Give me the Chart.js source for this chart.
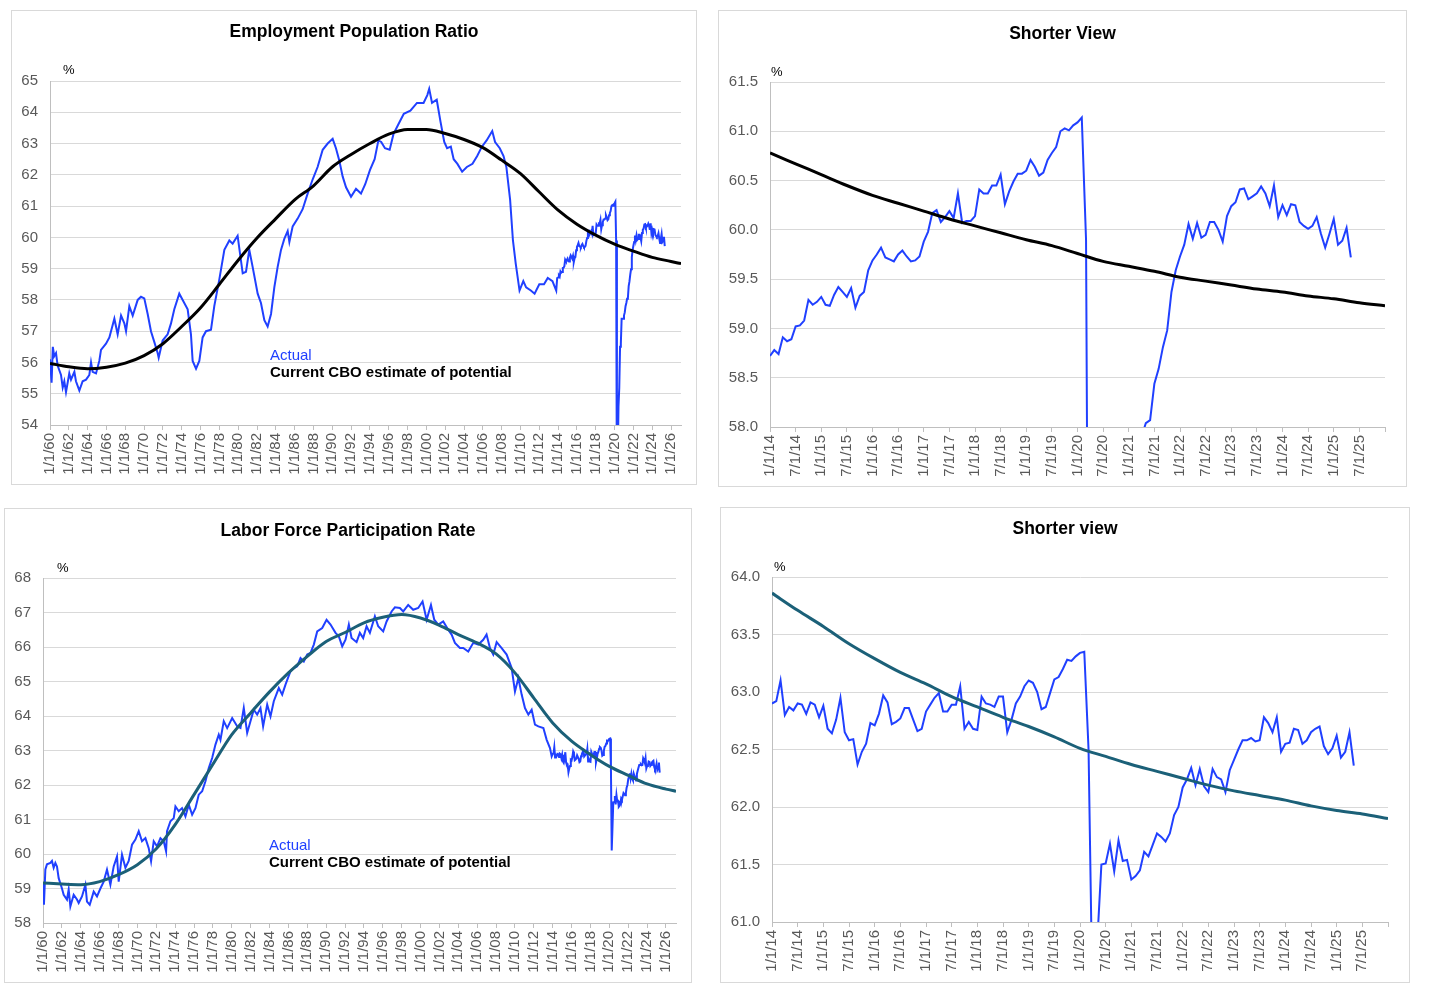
<!DOCTYPE html>
<html lang="en">
<head>
  <meta charset="UTF-8">
  <title>Employment Population Ratio and Labor Force Participation</title>
  <style>
    body {
      margin: 0;
      background: #ffffff;
      font-family: 'Liberation Sans', Arial, sans-serif;
    }

    .panel {
      position: absolute;
      box-sizing: border-box;
      border: 1px solid #d9d9d9;
      background: #ffffff;
    }

    .panel canvas {
      position: absolute;
      left: 0;
      top: 0;
    }

    .title {
      position: absolute;
      left: 0;
      right: 0;
      text-align: center;
      font-weight: bold;
      font-size: 17.5px;
      line-height: 20px;
      color: #000;
      z-index: 2;
    }

    .pct {
      position: absolute;
      font-size: 13px;
      line-height: 14px;
      color: #000;
      z-index: 2;
    }

    .note {
      position: absolute;
      font-size: 15px;
      line-height: 17px;
      white-space: nowrap;
      z-index: 2;
    }

    .note .actual { color: #2040ff; }
    .note .cbo { font-weight: bold; color: #000; }
  </style>
</head>
<body>
  <div class="panel" style="left:11px; top:10px; width:686px; height:475px;">
    <div class="title" style="top:10px;">Employment Population Ratio</div>
    <div class="pct" style="left:51px; top:52px;">%</div>
    <div class="note" style="left:258px; top:335px;">
      <div class="actual">Actual</div>
      <div class="cbo">Current CBO estimate of potential</div>
    </div>
    <canvas id="epop-long" width="684" height="473"></canvas>
  </div>

  <div class="panel" style="left:718px; top:10px; width:689px; height:477px;">
    <div class="title" style="top:12px;">Shorter View</div>
    <div class="pct" style="left:52px; top:54px;">%</div>
    <canvas id="epop-short" width="687" height="475"></canvas>
  </div>

  <div class="panel" style="left:4px; top:508px; width:688px; height:475px;">
    <div class="title" style="top:11px;">Labor Force Participation Rate</div>
    <div class="pct" style="left:52px; top:52px;">%</div>
    <div class="note" style="left:264px; top:327px;">
      <div class="actual">Actual</div>
      <div class="cbo">Current CBO estimate of potential</div>
    </div>
    <canvas id="lfpr-long" width="686" height="473"></canvas>
  </div>

  <div class="panel" style="left:720px; top:507px; width:690px; height:476px;">
    <div class="title" style="top:10px;">Shorter view</div>
    <div class="pct" style="left:53px; top:52px;">%</div>
    <canvas id="lfpr-short" width="688" height="474"></canvas>
  </div>

  <script src="https://cdn.jsdelivr.net/npm/chart.js"></script>
  <script>
    // tick labels
    const longTickLabels = ['1/1/60', '1/1/62', '1/1/64', '1/1/66', '1/1/68', '1/1/70', '1/1/72', '1/1/74', '1/1/76',
      '1/1/78', '1/1/80', '1/1/82', '1/1/84', '1/1/86', '1/1/88', '1/1/90', '1/1/92', '1/1/94', '1/1/96', '1/1/98',
      '1/1/00', '1/1/02', '1/1/04', '1/1/06', '1/1/08', '1/1/10', '1/1/12', '1/1/14', '1/1/16', '1/1/18', '1/1/20',
      '1/1/22', '1/1/24', '1/1/26'];
    const shortTickLabels = ['1/1/14', '7/1/14', '1/1/15', '7/1/15', '1/1/16', '7/1/16', '1/1/17', '7/1/17', '1/1/18',
      '7/1/18', '1/1/19', '7/1/19', '1/1/20', '7/1/20', '1/1/21', '7/1/21', '1/1/22', '7/1/22', '1/1/23', '7/1/23',
      '1/1/24', '7/1/24', '1/1/25', '7/1/25'];

    // employment population ratio, 1960-2013
    const epopHistYears = [1960.0, 1960.17, 1960.3, 1960.45, 1960.64, 1960.81, 1961.17, 1961.35, 1961.52, 1961.7,
      1962.05, 1962.23, 1962.59, 1962.76, 1963.12, 1963.47, 1963.83, 1964.18, 1964.36, 1964.53, 1964.89, 1965.24,
      1965.42, 1965.95, 1966.31, 1966.84, 1967.19, 1967.55, 1967.9, 1968.08, 1968.43, 1968.79, 1969.32, 1969.67,
      1970.02, 1970.38, 1970.73, 1971.09, 1971.44, 1971.55, 1971.97, 1972.5, 1972.86, 1973.21, 1973.74, 1974.1,
      1974.63, 1974.98, 1975.16, 1975.52, 1975.87, 1976.22, 1976.58, 1977.11, 1977.46, 1977.99, 1978.53, 1979.06,
      1979.41, 1979.94, 1980.3, 1980.48, 1980.83, 1981.18, 1981.54, 1982.07, 1982.42, 1982.78, 1983.13, 1983.49,
      1983.84, 1984.19, 1984.55, 1984.9, 1985.26, 1985.44, 1985.79, 1986.32, 1986.85, 1987.38, 1987.91, 1988.44,
      1988.98, 1989.51, 1990.04, 1990.39, 1990.75, 1991.1, 1991.46, 1991.99, 1992.52, 1993.05, 1993.5, 1994.0,
      1994.5, 1994.9, 1995.2, 1995.6, 1996.1, 1996.5, 1997.0, 1997.6, 1998.3, 1999.0, 1999.7, 2000.1, 2000.3,
      2000.6, 2001.1, 2001.5, 2001.9, 2002.2, 2002.6, 2002.9, 2003.3, 2003.8, 2004.3, 2004.9, 2005.4, 2005.9,
      2006.4, 2007.0, 2007.3, 2007.8, 2008.2, 2008.5, 2008.9, 2009.2, 2009.5, 2009.9, 2010.3, 2010.6, 2011.1,
      2011.5, 2012.0, 2012.5, 2012.9, 2013.4, 2013.8, 2013.9];
    const epopHistValues = [56.1, 55.35, 56.5, 56.2, 56.3, 55.9, 55.6, 55.2, 55.4, 55.05,
      55.65, 55.45, 55.7, 55.4, 55.1, 55.4, 55.45, 55.6, 56.0, 55.7, 55.65, 56.05,
      56.4, 56.6, 56.8, 57.4, 56.9, 57.5, 57.25, 57.0, 57.8, 57.5, 58.0, 58.1,
      58.05, 57.55, 57.0, 56.65, 56.3, 56.15, 56.7, 56.9, 57.25, 57.7, 58.2, 58.0,
      57.7, 56.9, 56.05, 55.8, 56.05, 56.8, 57.0, 57.05, 57.8, 58.65, 59.6, 59.9,
      59.8, 60.05, 59.25, 58.85, 58.9, 59.6, 59.05, 58.2, 57.9, 57.35, 57.15, 57.55,
      58.4, 59.05, 59.6, 59.95, 60.2, 59.85, 60.35, 60.6, 60.9, 61.4, 61.85, 62.25,
      62.8, 63.0, 63.15, 62.85, 62.45, 61.95, 61.6, 61.3, 61.55, 61.4, 61.7, 62.15,
      62.5, 63.1, 63.05, 62.85, 62.8, 63.3, 63.6, 63.95, 64.05, 64.3, 64.3, 64.55, 64.75,
      64.3, 64.4, 63.7, 63.05, 62.85, 62.9, 62.5, 62.35, 62.1, 62.25, 62.35, 62.6, 62.9,
      63.1, 63.4, 63.05, 62.85, 62.6, 62.25, 61.2, 59.9, 59.15, 58.3, 58.6, 58.4, 58.3,
      58.2, 58.5, 58.5, 58.7, 58.6, 58.3, 58.7];

    // employment population ratio, monthly from Jan 2014
    const epopMonthly = [
      58.72, 58.78, 58.74, 58.91, 58.87, 58.89, 59.02, 59.03, 59.08, 59.29, 59.24, 59.27,
      59.32, 59.24, 59.23, 59.34, 59.42, 59.37, 59.32, 59.41, 59.21, 59.33, 59.37, 59.59,
      59.69, 59.75, 59.82, 59.72, 59.70, 59.68, 59.75, 59.79, 59.73, 59.68, 59.69, 59.73,
      59.88, 59.98, 60.17, 60.20, 60.08, 60.13, 60.19, 60.12, 60.37, 60.07, 60.09, 60.09,
      60.14, 60.41, 60.37, 60.37, 60.45, 60.45, 60.56, 60.26, 60.39, 60.49, 60.57, 60.57,
      60.60, 60.71, 60.64, 60.55, 60.58, 60.71, 60.78, 60.84, 61.00, 61.03, 61.01, 61.06,
      61.09, 61.14, 59.90, 51.3, 52.8, 54.6, 55.2, 56.5, 56.6, 57.4, 57.4, 57.4,
      57.5, 57.6, 57.8, 57.9, 58.04, 58.07, 58.44, 58.59, 58.81, 58.98, 59.37, 59.59,
      59.73, 59.85, 60.06, 59.91, 60.07, 59.92, 59.95, 60.08, 60.08, 60.00, 59.88, 60.14,
      60.24, 60.28, 60.41, 60.42, 60.31, 60.34, 60.37, 60.44, 60.37, 60.24, 60.45, 60.13,
      60.25, 60.15, 60.26, 60.25, 60.08, 60.04, 60.01, 60.04, 60.13, 59.96, 59.82, 59.96,
      60.11, 59.85, 59.89, 60.02, 59.72];

    // CBO potential employment population ratio
    const epopCboYears = [1960, 1962, 1964, 1966, 1968, 1970, 1972, 1974, 1976, 1978, 1980, 1982, 1984, 1986,
      1988, 1990, 1992, 1994, 1996, 1998, 2000, 2002, 2004, 2006, 2008, 2010, 2012, 2014, 2016, 2018, 2020,
      2022, 2024, 2026, 2027.06];
    const epopCboValues = [55.97, 55.86, 55.8, 55.85, 55.98, 56.22, 56.6, 57.15, 57.75, 58.5, 59.27, 59.98, 60.6,
      61.2, 61.65, 62.25, 62.65, 63.0, 63.3, 63.45, 63.45, 63.32, 63.13, 62.87, 62.47, 62.04, 61.45, 60.87,
      60.42, 60.07, 59.78, 59.56, 59.36, 59.23, 59.16];
    // half-yearly from 1/1/14 to 1/1/26 (shorter view)
    const epopCboShort = [60.78, 60.67, 60.56, 60.45, 60.35, 60.27, 60.19, 60.11, 60.04, 59.97, 59.90, 59.84,
      59.76, 59.68, 59.63, 59.58, 59.52, 59.48, 59.44, 59.40, 59.37, 59.33, 59.30, 59.26, 59.23];

    // labor force participation rate, 1960-2013
    const lfprHistYears = [1960.0, 1960.1, 1960.25, 1960.42, 1960.78, 1960.95, 1961.13, 1961.31, 1961.48, 1961.66,
      1962.01, 1962.19, 1962.54, 1962.72, 1962.9, 1963.25, 1963.6, 1963.78, 1964.13, 1964.49, 1964.66, 1964.95,
      1965.37, 1965.72, 1966.08, 1966.43, 1966.78, 1967.14, 1967.49, 1967.84, 1968.02, 1968.37, 1968.73, 1969.08,
      1969.43, 1969.79, 1970.14, 1970.49, 1970.85, 1971.2, 1971.45, 1971.73, 1972.08, 1972.44, 1972.79, 1973.04,
      1973.14, 1973.5, 1973.85, 1974.03, 1974.38, 1974.73, 1975.09, 1975.44, 1975.8, 1976.15, 1976.5, 1976.86,
      1977.21, 1977.56, 1977.92, 1978.27, 1978.62, 1978.8, 1979.15, 1979.51, 1980.04, 1980.57, 1980.92, 1981.27,
      1981.63, 1981.98, 1982.33, 1982.69, 1983.04, 1983.32, 1983.75, 1984.1, 1984.45, 1984.98, 1985.34, 1985.69,
      1986.22, 1986.57, 1986.93, 1987.28, 1987.63, 1987.99, 1988.34, 1988.69, 1989.05, 1989.58, 1990.04, 1990.46,
      1990.99, 1991.34, 1991.7, 1992.05, 1992.4, 1992.69, 1993.22, 1993.57, 1993.92, 1994.28, 1994.63, 1995.16,
      1995.51, 1996.04, 1996.4, 1996.93, 1997.28, 1997.81, 1998.16, 1998.69, 1999.22, 1999.75, 2000.21, 2000.64,
      2001.1, 2001.45, 2001.87, 2002.4, 2002.93, 2003.29, 2003.64, 2004.17, 2004.52, 2005.05, 2005.58, 2006.11,
      2006.64, 2006.99, 2007.35, 2007.7, 2008.06, 2008.59, 2009.12, 2009.65, 2010.0, 2010.36, 2010.71, 2011.06,
      2011.42, 2011.77, 2012.12, 2012.48, 2013.01, 2013.36, 2013.71, 2013.89];
    const lfprHistValues = [59.16, 58.53, 59.55, 59.7, 59.74, 59.8, 59.6, 59.74, 59.64, 59.3,
      59.0, 58.82, 58.68, 58.97, 58.48, 58.82, 58.68, 58.58, 58.77, 59.11, 58.62, 58.53,
      58.91, 58.77, 59.0, 59.2, 59.55, 59.11, 59.64, 59.93, 59.2, 59.98, 59.6, 59.8,
      60.27, 60.42, 60.66, 60.37, 60.46, 60.17, 59.79, 60.37, 60.22, 60.46, 60.37, 60.08,
      60.66, 60.95, 61.04, 61.38, 61.24, 61.33, 61.09, 61.43, 61.14, 61.33, 61.72, 61.82,
      62.11, 62.49, 62.78, 63.17, 63.46, 63.31, 63.85, 63.65, 63.94, 63.7, 63.65, 64.23,
      63.51, 63.85, 64.18, 64.04, 64.23, 63.7, 64.33, 63.99, 64.43, 64.81, 64.62, 64.91,
      65.3, 65.39, 65.44, 65.68, 65.58, 65.78, 65.83, 66.07, 66.45, 66.55, 66.79, 66.65,
      66.41, 66.31, 66.02, 66.21, 66.65, 66.26, 66.14, 66.41, 66.26, 66.6, 66.41, 66.89,
      66.6, 66.45, 66.74, 67.03, 67.15, 67.13, 67.03, 67.22, 67.08, 67.13, 67.32, 66.79,
      67.22, 66.79, 66.65, 66.74, 66.5, 66.36, 66.12, 65.97, 65.97, 65.87, 66.12, 66.07,
      66.21, 66.36, 65.97, 65.78, 66.14, 65.97, 65.78, 65.39, 64.71, 65.1, 64.62, 64.23,
      64.04, 64.18, 63.75, 63.7, 63.65, 63.31, 63.07, 62.83];

    // labor force participation rate, monthly from Jan 2014
    const lfprMonthly = [
      62.90, 62.92, 63.10, 62.80, 62.87, 62.84, 62.90, 62.89, 62.81, 62.91, 62.89, 62.78,
      62.88, 62.68, 62.64, 62.76, 62.95, 62.65, 62.58, 62.59, 62.37, 62.48, 62.55, 62.73,
      62.71, 62.81, 62.97, 62.91, 62.72, 62.74, 62.77, 62.86, 62.86, 62.76, 62.66, 62.68,
      62.83, 62.89, 62.95, 62.99, 62.83, 62.83, 62.89, 62.89, 63.05, 62.68, 62.74, 62.68,
      62.67, 62.96, 62.90, 62.89, 62.87, 62.96, 62.96, 62.65, 62.76, 62.90, 62.96, 63.05,
      63.10, 63.08, 63.00, 62.85, 62.87, 62.99, 63.11, 63.13, 63.20, 63.28, 63.27, 63.31,
      63.34, 63.35, 62.5, 60.1, 60.8, 61.5, 61.51, 61.68, 61.44, 61.71, 61.53, 61.54,
      61.37, 61.40, 61.45, 61.61, 61.57, 61.67, 61.77, 61.74, 61.70, 61.77, 61.93, 62.00,
      62.17, 62.24, 62.34, 62.19, 62.33, 62.18, 62.13, 62.33, 62.26, 62.24, 62.13, 62.32,
      62.41, 62.50, 62.58, 62.58, 62.60, 62.57, 62.58, 62.78, 62.73, 62.65, 62.78, 62.48,
      62.55, 62.56, 62.68, 62.67, 62.55, 62.58, 62.65, 62.68, 62.70, 62.53, 62.46, 62.51,
      62.62, 62.43, 62.48, 62.65, 62.36];

    // CBO potential labor force participation rate
    const lfprCboYears = [1960, 1962, 1964, 1966, 1968, 1970, 1972, 1974, 1976, 1978, 1980, 1982, 1984, 1986,
      1988, 1990, 1992, 1994, 1996, 1998, 2000, 2002, 2004, 2006, 2008, 2010, 2012, 2014, 2016, 2018, 2020,
      2022, 2024, 2026, 2027.06];
    const lfprCboValues = [59.16, 59.13, 59.11, 59.2, 59.4, 59.69, 60.15, 60.85, 61.72, 62.6, 63.46, 64.09, 64.7,
      65.25, 65.73, 66.16, 66.42, 66.7, 66.86, 66.94, 66.84, 66.63, 66.36, 66.12, 65.8, 65.25, 64.52, 63.8,
      63.27, 62.88, 62.54, 62.28, 62.03, 61.88, 61.82];
    const lfprCboShort = [63.86, 63.71, 63.57, 63.42, 63.29, 63.17, 63.07, 62.96, 62.87, 62.78, 62.70, 62.61,
      62.51, 62.44, 62.37, 62.31, 62.25, 62.19, 62.14, 62.10, 62.06, 62.01, 61.97, 61.94, 61.90];

    const BLUE = '#2040ff';
    const TEAL = '#1b6078';

    Chart.defaults.font.family = "'Liberation Sans', Arial, sans-serif";

    function labelToYear(label) {
      const parts = label.split('/');
      const yy = Number(parts[2]);
      return (yy < 50 ? 2000 + yy : 1900 + yy) + (parts[0] === '7' ? 0.5 : 0);
    }

    function pairs(xs, ys) {
      return ys.map((y, i) => ({ x: xs[i], y: y }));
    }

    function monthly(values) {
      return values.map((y, i) => ({ x: 2014 + i / 12, y: y }));
    }

    function halfYearly(values) {
      return values.map((y, i) => ({ x: 2014 + i / 2, y: y }));
    }

    function makeChart(id, cfg) {
      const tickMap = {};
      cfg.tickLabels.forEach(l => { tickMap[labelToYear(l)] = l; });
      const tickValues = Object.keys(tickMap).map(Number);
      if (cfg.endTick) tickValues.push(cfg.xMax);

      return new Chart(document.getElementById(id), {
        type: 'line',
        data: { datasets: cfg.datasets },
        options: {
          responsive: false,
          animation: false,
          layout: { padding: cfg.padding },
          plugins: { legend: { display: false }, tooltip: { enabled: false } },
          elements: { point: { radius: 0 } },
          scales: {
            x: {
              type: 'linear',
              min: cfg.xMin,
              max: cfg.xMax,
              afterBuildTicks: s => { s.ticks = tickValues.map(v => ({ value: v })); },
              afterFit: s => { s.height = cfg.xHeight; },
              grid: { drawOnChartArea: false, color: '#bfbfbf', tickLength: 5 },
              border: { color: '#bfbfbf' },
              ticks: {
                autoSkip: false,
                minRotation: 90,
                maxRotation: 90,
                padding: 3,
                color: '#595959',
                font: { size: 15 },
                callback: v => tickMap[v] || ''
              }
            },
            y: {
              min: cfg.yMin,
              max: cfg.yMax,
              afterFit: s => { s.width = cfg.yWidth; },
              grid: { color: '#d9d9d9', drawTicks: false },
              border: { color: '#bfbfbf' },
              ticks: {
                stepSize: cfg.yStep,
                padding: 12,
                color: '#595959',
                font: { size: 15 },
                callback: v => v.toFixed(cfg.decimals)
              }
            }
          }
        }
      });
    }

    makeChart('epop-long', {
      datasets: [
        { data: pairs(epopCboYears, epopCboValues), borderColor: '#000', borderWidth: 3, cubicInterpolationMode: 'monotone' },
        { data: pairs(epopHistYears, epopHistValues).concat(monthly(epopMonthly)), borderColor: BLUE, borderWidth: 2 }
      ],
      tickLabels: longTickLabels,
      xMin: 1960, xMax: 2027.06,
      yMin: 54, yMax: 65, yStep: 1, decimals: 0,
      padding: { top: 70, right: 15, bottom: 4, left: 0 },
      yWidth: 38, xHeight: 55
    });

    makeChart('epop-short', {
      datasets: [
        { data: halfYearly(epopCboShort), borderColor: '#000', borderWidth: 3, cubicInterpolationMode: 'monotone' },
        { data: monthly(epopMonthly), borderColor: BLUE, borderWidth: 2 }
      ],
      tickLabels: shortTickLabels, endTick: true,
      xMin: 2014, xMax: 2026,
      yMin: 58, yMax: 61.5, yStep: 0.5, decimals: 1,
      padding: { top: 71, right: 16, bottom: 4, left: 0 },
      yWidth: 51, xHeight: 55
    });

    makeChart('lfpr-long', {
      datasets: [
        { data: pairs(lfprCboYears, lfprCboValues), borderColor: TEAL, borderWidth: 3, cubicInterpolationMode: 'monotone' },
        { data: pairs(lfprHistYears, lfprHistValues).concat(monthly(lfprMonthly)), borderColor: BLUE, borderWidth: 2 }
      ],
      tickLabels: longTickLabels,
      xMin: 1960, xMax: 2027.06,
      yMin: 58, yMax: 68, yStep: 1, decimals: 0,
      padding: { top: 69, right: 15, bottom: 4, left: 0 },
      yWidth: 38, xHeight: 55
    });

    makeChart('lfpr-short', {
      datasets: [
        { data: halfYearly(lfprCboShort), borderColor: TEAL, borderWidth: 3, cubicInterpolationMode: 'monotone' },
        { data: monthly(lfprMonthly), borderColor: BLUE, borderWidth: 2 }
      ],
      tickLabels: shortTickLabels, endTick: true,
      xMin: 2014, xMax: 2026,
      yMin: 61, yMax: 64, yStep: 0.5, decimals: 1,
      padding: { top: 69, right: 16, bottom: 5, left: 0 },
      yWidth: 51, xHeight: 55
    });
  </script>
</body>
</html>
